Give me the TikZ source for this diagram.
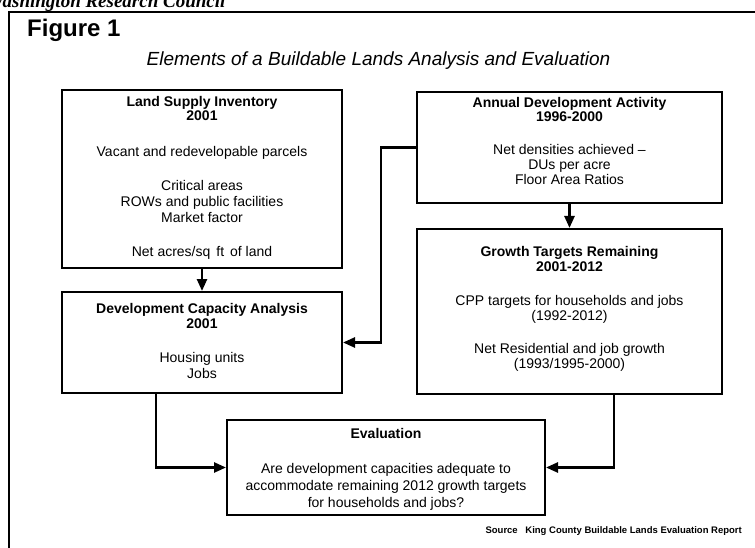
\documentclass[tikz,border=0pt]{standalone}
\usepackage{fontspec}
\setmainfont{Liberation Sans}
\newfontfamily\wrcfont{Liberation Serif}
\usetikzlibrary{arrows.meta}
\begin{document}
\begin{tikzpicture}[x=1pt,y=-1pt,
 box/.style={draw=black, line width=2pt, rectangle, inner sep=0pt},
 conn/.style={draw=black, line width=2.5pt},
 arr/.style={conn, -{Triangle[length=12pt,width=10pt]}},
 txt/.style={anchor=base, inner sep=0pt, font=\fontsize{14}{16}\selectfont},
 btxt/.style={anchor=base, inner sep=0pt, font=\fontsize{14}{16}\selectfont\bfseries}]
\useasboundingbox (0,0) rectangle (755,548);
% page header and frame
\node[anchor=base west, inner sep=0pt, font=\wrcfont\fontsize{19}{21}\selectfont\bfseries\itshape] (hdr) at (-13,8) {Washington Research Council};
\draw[line width=2.5pt] (9,560) -- (9,12) -- (760,12);
\node[anchor=base west, inner sep=0pt, font=\fontsize{24}{27}\selectfont\bfseries] (fig) at (27,37) {Figure 1};
\node[anchor=base, inner sep=0pt, font=\fontsize{19}{22}\selectfont\itshape] (sub) at (378.5,66) {Elements of a Buildable Lands Analysis and Evaluation};
% boxes
\node[box, minimum width=280pt, minimum height=178pt] (lsi) at (202,179) {};
\node[box, minimum width=280pt, minimum height=101pt] (dca) at (202,342.5) {};
\node[box, minimum width=305pt, minimum height=111pt] (ada) at (569.5,147.5) {};
\node[box, minimum width=305pt, minimum height=165pt] (gtr) at (569.5,311.5) {};
\node[box, minimum width=318pt, minimum height=95pt] (eva) at (386,467.5) {};
% Land Supply Inventory
\node[btxt] (l1) at (202,107) {Land Supply Inventory};
\node[btxt] (l2) at (202,121) {2001};
\node[txt] (l3) at (202,157) {Vacant and redevelopable parcels};
\node[txt] (l4) at (202,191) {Critical areas};
\node[txt] (l5) at (202,207) {ROWs and public facilities};
\node[txt] (l6) at (202,223) {Market factor};
\node[txt] (l7) at (202,257) {Net acres/sq\hspace{6pt}ft\hspace{2pt} of land};
% Development Capacity Analysis
\node[btxt] (d1) at (202,313) {Development Capacity Analysis};
\node[btxt] (d2) at (202,328) {2001};
\node[txt] (d3) at (202,362) {Housing units};
\node[txt] (d4) at (202,378) {Jobs};
% Annual Development Activity
\node[btxt] (a1) at (569.5,108) {Annual Development Activity};
\node[btxt] (a2) at (569.5,122) {1996-2000};
\node[txt] (a3) at (569.5,155) {Net densities achieved --};
\node[txt] (a4) at (569.5,170) {DUs per acre};
\node[txt] (a5) at (569.5,185) {Floor Area Ratios};
% Growth Targets Remaining
\node[btxt] (g1) at (569.5,257) {Growth Targets Remaining};
\node[btxt] (g2) at (569.5,272) {2001-2012};
\node[txt] (g3) at (569.5,305) {CPP targets for households and jobs};
\node[txt] (g4) at (569.5,320) {(1992-2012)};
\node[txt] (g5) at (569.5,353) {Net Residential and job growth};
\node[txt] (g6) at (569.5,368) {(1993/1995-2000)};
% Evaluation
\node[btxt] (e1) at (386,438) {Evaluation};
\node[txt] (e2) at (386,473) {Are development capacities adequate to};
\node[txt] (e3) at (386,490) {accommodate remaining 2012 growth targets};
\node[txt] (e4) at (386,507) {for households and jobs?};
% source
\node[anchor=base east, inner sep=0pt, font=\fontsize{9.5}{11}\selectfont\bfseries] (src) at (742,533) {Source\hspace{5pt} King County Buildable Lands Evaluation Report};
% connectors
\coordinate (j1) at (381,147.5);
\draw[arr] (lsi.south) -- (dca.north);
\draw[arr] (ada.south) -- (gtr.north);
\draw[arr] (ada.west) -- (j1) |- (dca.east);
\draw[arr] ([xshift=95pt]dca.south west) |- (eva.west);
\draw[arr] ([xshift=-109pt]gtr.south east) |- (eva.east);
\end{tikzpicture}
\end{document}
